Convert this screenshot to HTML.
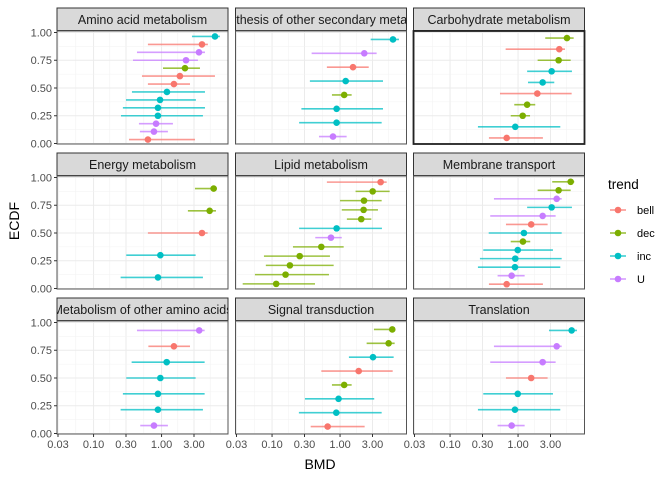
<!DOCTYPE html>
<html><head><meta charset="utf-8"><style>
body{margin:0;background:#fff;}
svg{display:block;font-family:"Liberation Sans",sans-serif;}
</style></head><body>
<svg id="chart" width="672" height="480" viewBox="0 0 672 480"></svg>
<script>
const facetNames = ["Amino acid metabolism","Biosynthesis of other secondary metabolites","Carbohydrate metabolism","Energy metabolism","Lipid metabolism","Membrane transport","Metabolism of other amino acids","Signal transduction","Translation"];
const trendNames = ["bell","dec","inc","U"];
const xTickVals = [0.03,0.1,0.3,1,3];
const xTickLabels = ["0.03","0.10","0.30","1.00","3.00"];
const yTickVals = [0,0.25,0.5,0.75,1];
const yTickLabels = ["0.00","0.25","0.50","0.75","1.00"];
// per facet: trend, BMD, lower, upper
const trends0 = ["inc","bell","U","U","dec","bell","bell","inc","inc","inc","inc","U","U","bell"];
const bmd0 = [6.1,3.93,3.55,2.29,2.21,1.86,1.52,1.2,0.95,0.885,0.884,0.83,0.773,0.63];
const lo0 = [2.8,0.63,0.435,0.38,1.05,0.515,0.63,0.367,0.3,0.27,0.253,0.465,0.48,0.332];
const hi0 = [7.2,4.8,4.35,3.43,3.67,6.1,2.62,4.35,3.2,4.35,4.06,1.47,1.24,3.1];
const trends1 = ["inc","U","bell","inc","dec","inc","inc","U"];
const bmd1 = [6.0,2.27,1.55,1.21,1.15,0.89,0.889,0.787];
const lo1 = [2.82,0.382,0.64,0.36,0.76,0.27,0.25,0.49];
const hi1 = [7.35,3.45,2.64,4.28,1.48,4.28,4.09,1.25];
const trends2 = ["dec","bell","dec","inc","inc","bell","dec","dec","inc","bell"];
const bmd2 = [5.24,4.04,3.95,3.12,2.3,1.92,1.36,1.17,0.91,0.68];
const lo2 = [2.51,0.657,1.94,1.36,1.4,0.542,0.88,0.78,0.257,0.373];
const hi2 = [6.57,4.9,5.94,6.2,3.41,6.14,1.79,1.5,4.18,2.32];
const trends3 = ["dec","dec","bell","inc","inc"];
const bmd3 = [5.84,5.1,3.93,0.96,0.885];
const lo3 = [3.1,2.44,0.63,0.303,0.25];
const hi3 = [6.46,6.31,4.76,3.17,4.06];
const trends4 = ["bell","dec","dec","dec","dec","inc","U","dec","dec","dec","dec","dec"];
const bmd4 = [3.95,3.02,2.25,2.22,2.05,0.89,0.735,0.53,0.255,0.183,0.158,0.115];
const lo4 = [0.64,1.69,1.0,1.06,1.26,0.25,0.432,0.203,0.076,0.081,0.056,0.037];
const hi4 = [4.85,5.36,4.09,3.61,2.88,4.13,1.06,1.13,0.71,0.805,0.687,0.428];
const trends5 = ["dec","dec","U","inc","U","bell","inc","dec","inc","inc","inc","U","bell"];
const bmd5 = [5.94,3.95,3.7,3.12,2.3,1.56,1.22,1.18,0.99,0.91,0.9,0.805,0.68];
const lo5 = [3.18,1.94,0.442,1.36,0.39,0.664,0.37,0.78,0.308,0.275,0.257,0.5,0.373];
const hi5 = [6.7,5.94,4.38,6.2,3.57,2.72,4.38,1.51,3.26,4.38,4.18,1.25,2.32];
const trends6 = ["U","bell","inc","inc","inc","inc","U"];
const bmd6 = [3.58,1.52,1.19,0.96,0.885,0.884,0.773];
const lo6 = [0.435,0.64,0.363,0.303,0.27,0.25,0.486];
const hi6 = [4.3,2.62,4.3,3.17,4.3,4.06,1.24];
const trends7 = ["dec","dec","inc","bell","dec","inc","inc","bell"];
const bmd7 = [5.86,5.18,3.05,1.88,1.15,0.95,0.88,0.657];
const lo7 = [3.15,2.46,1.35,0.53,0.76,0.305,0.248,0.37];
const hi7 = [6.48,6.35,6.14,5.94,1.48,3.18,4.09,2.3];
const trends8 = ["inc","U","U","bell","inc","inc","U"];
const bmd8 = [6.14,3.7,2.3,1.56,0.99,0.9,0.805];
const lo8 = [2.85,0.442,0.39,0.664,0.308,0.257,0.5];
const hi8 = [7.35,4.38,3.57,2.72,3.26,4.18,1.25];

const facetData = [[trends0,bmd0,lo0,hi0],[trends1,bmd1,lo1,hi1],[trends2,bmd2,lo2,hi2],[trends3,bmd3,lo3,hi3],[trends4,bmd4,lo4,hi4],[trends5,bmd5,lo5,hi5],[trends6,bmd6,lo6,hi6],[trends7,bmd7,lo7,hi7],[trends8,bmd8,lo8,hi8]];
const colors = {bell:"#F8766D",dec:"#7CAE00",inc:"#00BFC4",U:"#C77CFF"};

const NS="http://www.w3.org/2000/svg";
const svg=document.getElementById('chart');
function mk(tag,attrs,parent){const e=document.createElementNS(NS,tag);for(const k in attrs)e.setAttribute(k,attrs[k]);(parent||svg).appendChild(e);return e;}
const colX=[57,235.5,413.5], PW=171, rowStrip=[8,153,298], rowTop=[31,176,321], PH=113;
function xs(col,v){return colX[col]+1+(Math.log10(v)-Math.log10(0.03))*68;}
function ys(row,v){return rowTop[row]+1.5+(1-v)*111;}

const defs=mk('defs',{});
for(let f=0;f<9;f++){
  const col=f%3,row=Math.floor(f/3);
  const cp=mk('clipPath',{id:'sc'+f},defs);
  mk('rect',{x:colX[col],y:rowStrip[row],width:PW,height:22.5},cp);
  const cp2=mk('clipPath',{id:'pc'+f},defs);
  mk('rect',{x:colX[col],y:rowTop[row],width:PW,height:PH},cp2);
}
for(let f=0;f<9;f++){
  const col=f%3,row=Math.floor(f/3);
  const g=mk('g',{});
  
  
  const strip=mk('rect',{x:colX[col],y:rowStrip[row],width:PW,height:22.5,fill:'#D9D9D9',stroke:'#333','stroke-width':1},g);
  
  
  const st=mk('text',{x:colX[col]+PW/2,y:rowStrip[row]+16,'text-anchor':'middle','font-size':'12.5','fill':'#1A1A1A','clip-path':'url(#sc'+f+')'},g);
  st.textContent=facetNames[f];
  
  
  mk('rect',{x:colX[col],y:rowTop[row],width:PW,height:PH,fill:'#fff'},g);
  // grid
  for(let i=0;i<xTickVals.length;i++){
    const x=xs(col,xTickVals[i]);
    mk('line',{x1:x,x2:x,y1:rowTop[row],y2:rowTop[row]+PH,stroke:'#EBEBEB','stroke-width':1},g);
    const nx = i<xTickVals.length-1 ? Math.sqrt(xTickVals[i]*xTickVals[i+1]) : xTickVals[i]*Math.sqrt(xTickVals[i]/xTickVals[i-1]);
    const mx=xs(col,nx);
    if(mx<colX[col]+PW) mk('line',{x1:mx,x2:mx,y1:rowTop[row],y2:rowTop[row]+PH,stroke:'#F2F2F2','stroke-width':0.6},g);
  }
  for(let i=0;i<yTickVals.length;i++){
    const y=ys(row,yTickVals[i]);
    mk('line',{x1:colX[col],x2:colX[col]+PW,y1:y,y2:y,stroke:'#EBEBEB','stroke-width':1},g);
    if(i<yTickVals.length-1){const my=ys(row,(yTickVals[i]+yTickVals[i+1])/2);
    mk('line',{x1:colX[col],x2:colX[col]+PW,y1:my,y2:my,stroke:'#F2F2F2','stroke-width':0.6},g);}
  }
  // data
  const [tr,b,lo,hi]=facetData[f];
  const n=b.length;
  const idx=b.map((v,i)=>i).sort((a,c)=>b[c]-b[a]||a-c);
  const dg=mk('g',{'clip-path':'url(#pc'+f+')'},g);
  idx.forEach((i,r)=>{
    const e=(n-r-0.5)/n;
    const y=ys(row,e);
    const c=colors[tr[i]];
    const ln=mk('line',{x1:xs(col,lo[i]),x2:xs(col,hi[i]),y1:y,y2:y,stroke:c,'stroke-width':1.6,'stroke-opacity':0.75},dg);
    
    
    const pt=mk('circle',{cx:xs(col,b[i]),cy:y,r:3.3,fill:c},dg);
    
    
  });
  const border=mk('rect',{x:colX[col],y:rowTop[row],width:PW,height:PH,fill:'none',stroke:f===2?'#222':'#555','stroke-width':f===2?1.8:1},g);
  
  
  // y axis
  if(col===0){
    for(let i=0;i<yTickVals.length;i++){
      const y=ys(row,yTickVals[i]);
      mk('line',{x1:colX[0]-3,x2:colX[0],y1:y,y2:y,stroke:'#333'},g);
      const t=mk('text',{x:colX[0]-5,y:y+3.8,'text-anchor':'end','font-size':'11','fill':'#4D4D4D'},g);
      t.textContent=yTickLabels[i];
      
      
    }
  }
  if(row===2){
    for(let i=0;i<xTickVals.length;i++){
      const x=xs(col,xTickVals[i]);
      mk('line',{x1:x,x2:x,y1:rowTop[2]+PH,y2:rowTop[2]+PH+3,stroke:'#333'},g);
      const t=mk('text',{x:x,y:rowTop[2]+PH+14,'text-anchor':'middle','font-size':'11','fill':'#4D4D4D'},g);
      t.textContent=xTickLabels[i];
      
      
    }
  }
}
const xt=mk('text',{x:320,y:469,'text-anchor':'middle','font-size':'14','fill':'#000'});
xt.textContent='BMD';


const yt=mk('text',{x:0,y:0,'text-anchor':'middle','font-size':'14','fill':'#000',transform:'translate(19,221) rotate(-90)'});
yt.textContent='ECDF';


const lg=mk('g',{});


const lt=mk('text',{x:608,y:189,'font-size':'13.5','fill':'#000'},lg);
lt.textContent='trend';


trendNames.forEach((t,i)=>{
  const y=210+i*23;
  const e=mk('g',{},lg);
  
  
  mk('line',{x1:610,x2:626,y1:y,y2:y,stroke:colors[t],'stroke-width':1.6,'stroke-opacity':0.75},e);
  mk('circle',{cx:618,cy:y,r:3.3,fill:colors[t]},e);
  const tx=mk('text',{x:637,y:y+4,'font-size':'11','fill':'#000'},e);
  tx.textContent=t;
});
</script>
</body></html>
